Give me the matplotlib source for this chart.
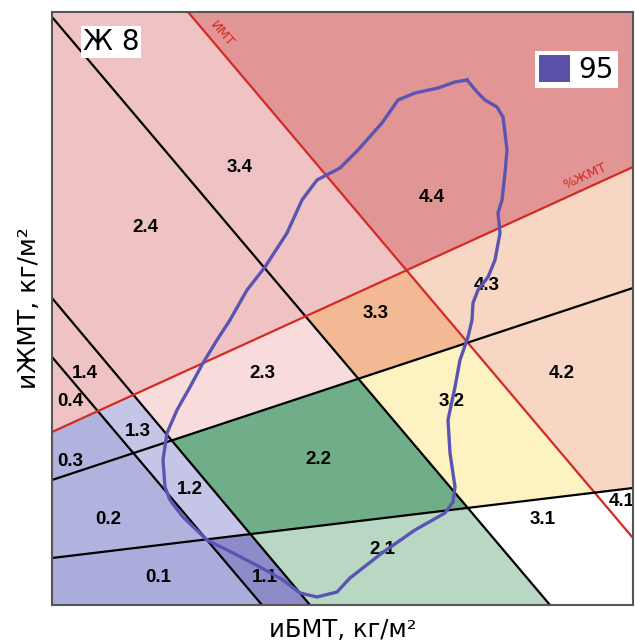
import matplotlib
matplotlib.use("Agg")
import matplotlib.pyplot as plt
from matplotlib.patches import Polygon, Patch

# diagram units: x 0..581, y 0..593 (no ticks on the original)
x_max, y_max = 581, 593

# dividing lines, each given by two end points on the frame
# descending lines separate the columns 0..4
diag_names = ["L1", "L2", "L3", "ИМТ"]
diag_x0 = [0, 0, 0, 136]
diag_y0 = [248, 307, 588, 593]
diag_x1 = [210, 258, 498, 581]
diag_y1 = [0, 0, 0, 67]
diag_colors = ["black", "black", "black", "#d42a24"]

# rising lines separate the rows 1..4
rise_names = ["M1", "M2", "%ЖМТ"]
rise_x0 = [0, 0, 0]
rise_y0 = [47, 125, 173]
rise_x1 = [581, 581, 581]
rise_y1 = [117, 317, 438]
rise_colors = ["black", "black", "#d42a24"]

# cell fill colours, cell_colors[col][row-1]
cell_colors = [
    ["#aaaddb", "#b0b3de", "#b0b3de", "#efc3c3"],   # 0.x
    ["#8e8cc8", "#c4c5e7", "#c4c5e7", "#efc3c3"],   # 1.x
    ["#b8d8c3", "#6fae89", "#f8dcdc", "#efc3c3"],   # 2.x
    ["#ffffff", "#fdf2c2", "#f2b994", "#efc3c3"],   # 3.x
    ["#ffffff", "#f7d6c3", "#f7d6c3", "#e29595"],   # 4.x
]

# cell labels and where they sit
cell_labels = ["0.1", "0.2", "0.3", "0.4", "1.1", "1.2", "1.3", "1.4",
               "2.1", "2.2", "2.3", "2.4", "3.1", "3.2", "3.3", "3.4",
               "4.1", "4.2", "4.3", "4.4"]
label_x = [106, 56, 18, 18, 213, 138, 86, 33,
           330, 266, 210, 93, 491, 400, 324, 188,
           570, 510, 435, 380]
label_y = [27, 85, 143, 203, 27, 115, 173, 232,
           55, 145, 232, 378, 85, 203, 292, 437,
           103, 232, 320, 408]

# 95 % contour
contour_x = [415, 426, 433, 445, 451, 453, 455, 453, 450, 446, 448, 443, 436,
             426, 421, 420, 416, 408, 403, 396, 398, 403, 401, 393, 363, 330,
             298, 285, 265, 248, 231, 208, 181, 155, 131, 118, 113, 111, 115,
             125, 138, 151, 165, 178, 195, 213, 235, 250, 265, 288, 306, 330,
             346, 363, 386, 403, 415]
contour_y = [525, 512, 505, 498, 488, 472, 455, 432, 405, 392, 372, 345, 328,
             315, 302, 285, 268, 245, 218, 185, 152, 118, 103, 92, 75, 52,
             27, 13, 8, 12, 25, 38, 52, 65, 88, 105, 118, 145, 172,
             195, 218, 242, 265, 285, 315, 338, 372, 405, 425, 437, 455, 482,
             505, 512, 517, 523, 525]


def side(p, a, b):
    return (b[0] - a[0]) * (p[1] - a[1]) - (b[1] - a[1]) * (p[0] - a[0])


def clip(poly, a, b, sign):
    # keep the part of poly where sign * side >= 0
    out = []
    n = len(poly)
    for k in range(n):
        p, q = poly[k], poly[(k + 1) % n]
        sp, sq = sign * side(p, a, b), sign * side(q, a, b)
        if sp >= 0:
            out.append(p)
        if (sp >= 0) != (sq >= 0):
            t = sp / (sp - sq)
            out.append((p[0] + t * (q[0] - p[0]), p[1] + t * (q[1] - p[1])))
    return out


diag = [((diag_x0[i], diag_y0[i]), (diag_x1[i], diag_y1[i])) for i in range(4)]
rise = [((rise_x0[j], rise_y0[j]), (rise_x1[j], rise_y1[j])) for j in range(3)]

fig = plt.figure(figsize=(6.35, 6.44), dpi=100)
ax = fig.add_axes([52 / 635, 39 / 644, 581 / 635, 593 / 644])
ax.set_xlim(0, x_max)
ax.set_ylim(0, y_max)

frame = [(0, 0), (x_max, 0), (x_max, y_max), (0, y_max)]
for i in range(5):
    for j in range(4):
        poly = list(frame)
        if i > 0:
            poly = clip(poly, *diag[i - 1], 1)
        if i < 4:
            poly = clip(poly, *diag[i], -1)
        if j > 0:
            poly = clip(poly, *rise[j - 1], 1)
        if j < 3:
            poly = clip(poly, *rise[j], -1)
        if len(poly) > 2:
            ax.add_patch(Polygon(poly, closed=True, facecolor=cell_colors[i][j],
                                 edgecolor="none", zorder=1))

for (a, b), c in zip(diag, diag_colors):
    ax.plot([a[0], b[0]], [a[1], b[1]], color=c, lw=1.6, zorder=2)
for (a, b), c in zip(rise, rise_colors):
    ax.plot([a[0], b[0]], [a[1], b[1]], color=c, lw=1.6, zorder=2)

for t, x, y in zip(cell_labels, label_x, label_y):
    ax.text(x, y, t, ha="center", va="center", fontsize=13.5, fontweight="bold",
            family="Liberation Sans", zorder=3)

ax.plot(contour_x, contour_y, color="#5a55b2", lw=2.4, solid_joinstyle="round", zorder=4)

# names of the red lines
ax.text(170, 571, "ИМТ", color="#d42a24", fontsize=9.5, rotation=-49.7,
        ha="center", va="center", rotation_mode="anchor", zorder=3)
ax.text(533, 429, "%ЖМТ", color="#d42a24", fontsize=9.5, rotation=24.5,
        ha="center", va="center", rotation_mode="anchor", zorder=3)

ax.text(59, 563, "Ж 8", fontsize=20, ha="center", va="center", zorder=5,
        bbox=dict(facecolor="white", edgecolor="none", pad=1.5))

leg = ax.legend(handles=[Patch(facecolor="#5a50a8", edgecolor="none")], labels=["95"],
                loc="upper right", bbox_to_anchor=(0.974, 0.934), fontsize=20,
                frameon=True, fancybox=False, framealpha=1, edgecolor="none",
                handlelength=1.1, handleheight=1.1, handletextpad=0.3,
                borderpad=0.15, borderaxespad=0)
leg.set_zorder(6)

for s in ax.spines.values():
    s.set_color("#555555")
    s.set_linewidth(1.5)
    s.set_zorder(7)
ax.set_xticks([])
ax.set_yticks([])
ax.set_xlabel("иБМТ, кг/м²", fontsize=17.5, labelpad=9)
ax.set_ylabel("иЖМТ, кг/м²", fontsize=18, labelpad=8)

fig.savefig("out.png", dpi=100)
